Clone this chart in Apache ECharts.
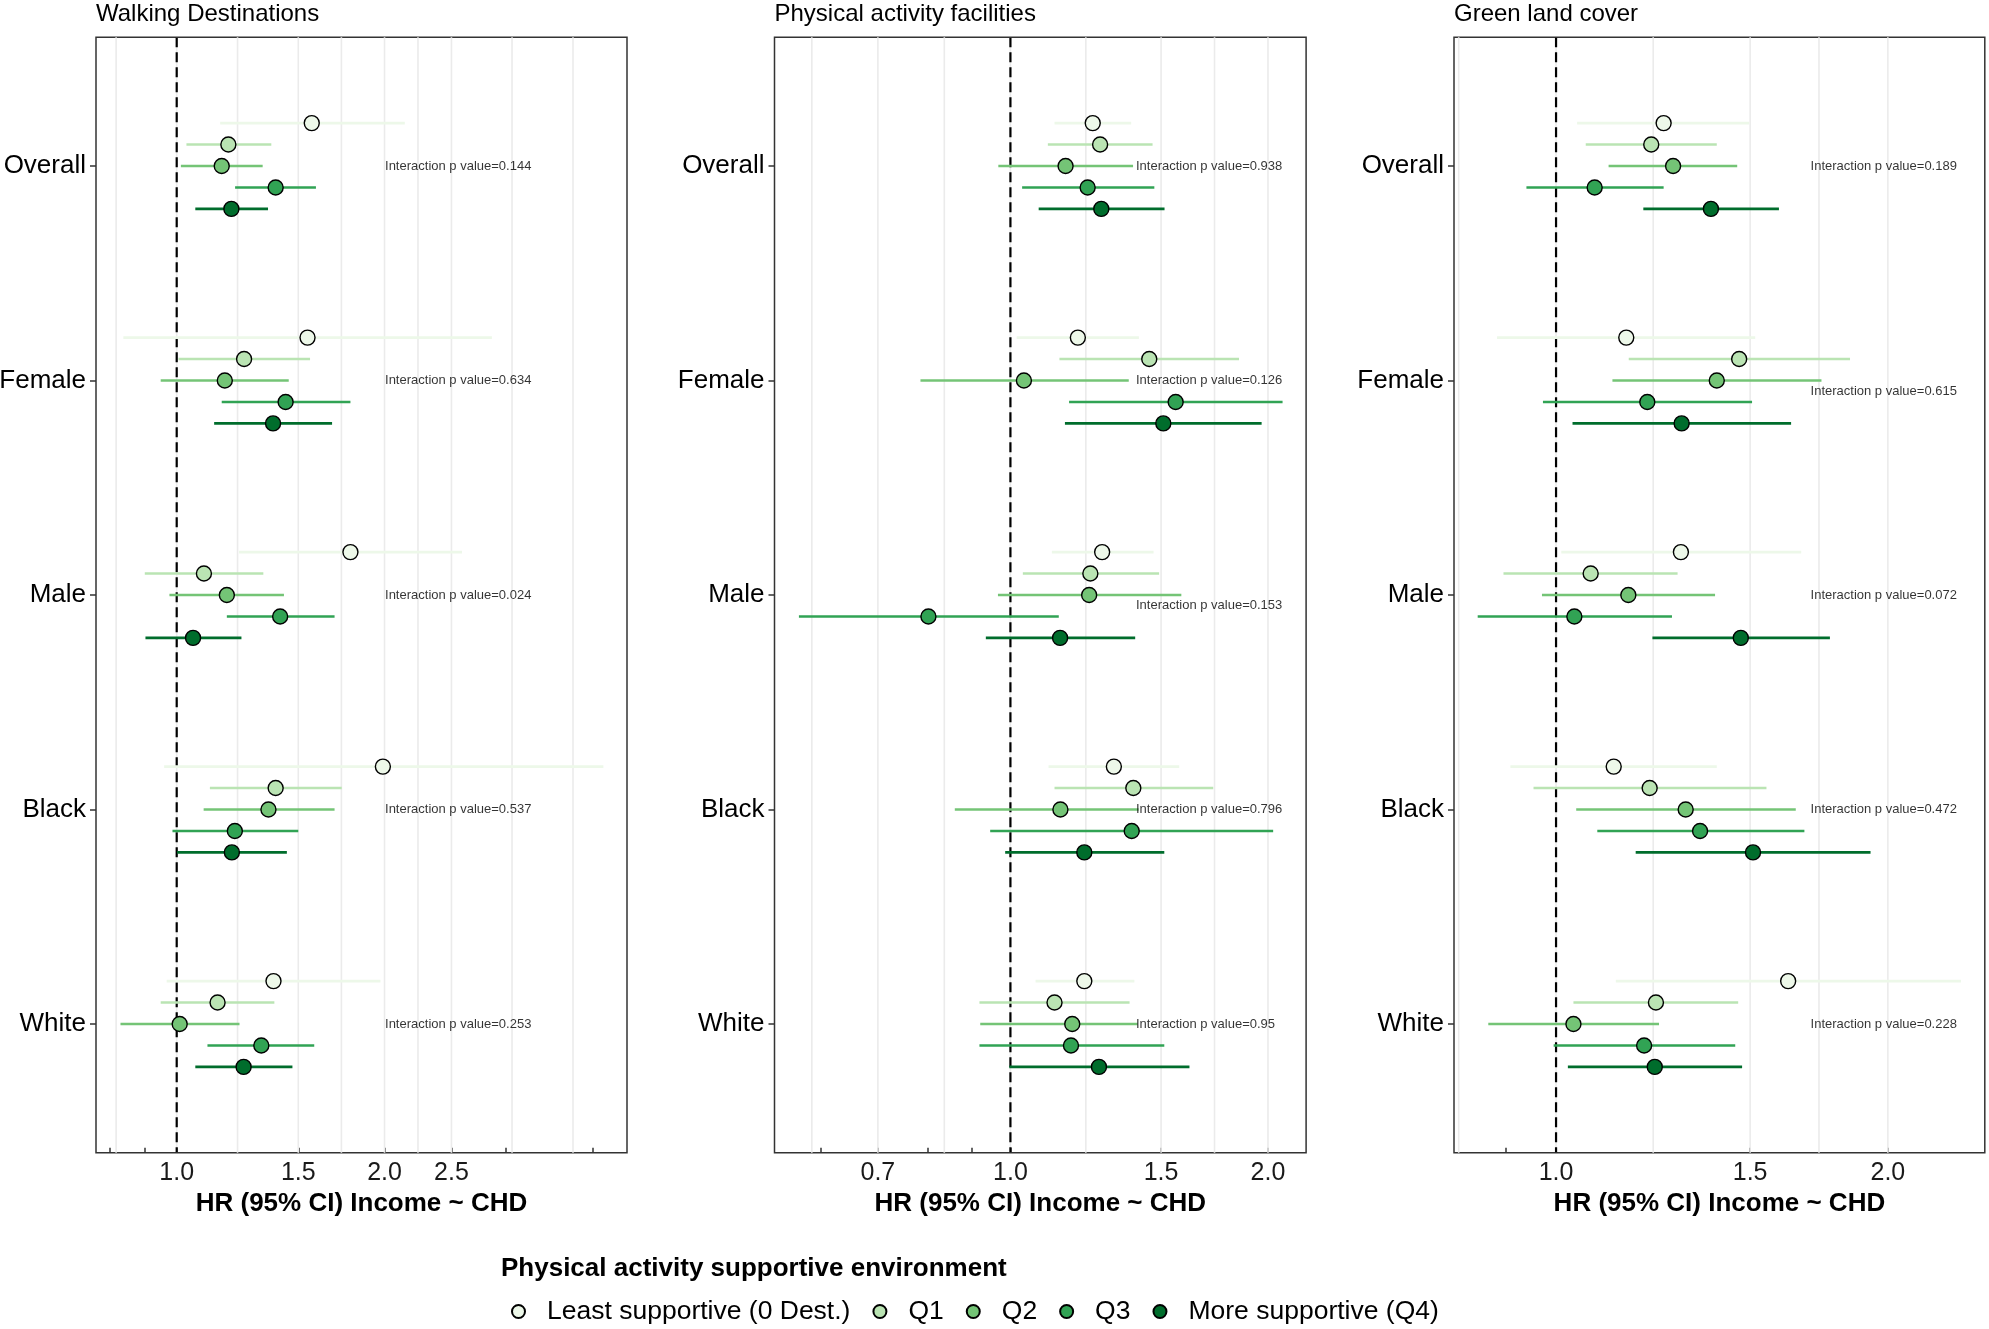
<!DOCTYPE html>
<html>
<head>
<meta charset="utf-8">
<script src="https://cdn.jsdelivr.net/npm/echarts@6/dist/echarts.min.js"></script>
<style>
  html, body { margin: 0; padding: 0; background: #fff; }
  #chart { width: 1989px; height: 1329px; }
</style>
</head>
<body>
<div id="chart"></div>
<script>
var subgroups = ['Overall', 'Female', 'Male', 'Black', 'White'];
var groupNames = ['Least supportive (0 Dest.)', 'Q1', 'Q2', 'Q3', 'More supportive (Q4)'];
var groupColors = ['#edf8e9', '#bae4b3', '#74c476', '#31a354', '#006d2c'];
var panelTitles = ['Walking Destinations', 'Physical activity facilities', 'Green land cover'];

// rows = environment group, columns = subgroup (Overall, Female, Male, Black, White)
var walkHR = [
  [1.569, 1.547, 1.785, 1.989, 1.381],
  [1.188, 1.252, 1.095, 1.391, 1.146],
  [1.162, 1.174, 1.182, 1.358, 1.010],
  [1.391, 1.438, 1.412, 1.214, 1.326],
  [1.200, 1.379, 1.056, 1.202, 1.250]
];
var walkLo = [
  [1.156, 0.837, 1.231, 0.959, 0.967],
  [1.033, 1.006, 0.899, 1.117, 0.948],
  [1.014, 0.948, 0.976, 1.094, 0.829],
  [1.215, 1.162, 1.182, 0.986, 1.108],
  [1.064, 1.133, 0.901, 1.001, 1.064]
];
var walkHi = [
  [2.140, 2.861, 2.590, 4.150, 1.973],
  [1.371, 1.560, 1.335, 1.734, 1.385],
  [1.332, 1.453, 1.430, 1.693, 1.233],
  [1.591, 1.785, 1.693, 1.500, 1.582],
  [1.356, 1.679, 1.241, 1.444, 1.471]
];
var walkP = ['0.144', '0.634', '0.024', '0.537', '0.253'];

var facHR = [
  [1.248, 1.199, 1.280, 1.321, 1.220],
  [1.273, 1.453, 1.240, 1.392, 1.126],
  [1.160, 1.037, 1.236, 1.144, 1.181],
  [1.231, 1.560, 0.802, 1.386, 1.177],
  [1.277, 1.509, 1.143, 1.220, 1.269]
];
var facLo = [
  [1.126, 1.017, 1.118, 1.108, 1.070],
  [1.106, 1.141, 1.034, 1.126, 0.920],
  [0.968, 0.785, 0.967, 0.861, 0.922],
  [1.032, 1.171, 0.566, 0.947, 0.920],
  [1.079, 1.158, 0.936, 0.986, 0.997]
];
var facHi = [
  [1.384, 1.413, 1.470, 1.575, 1.396],
  [1.466, 1.850, 1.492, 1.726, 1.378],
  [1.391, 1.375, 1.584, 1.412, 1.408],
  [1.473, 2.080, 1.139, 2.028, 1.513],
  [1.514, 1.966, 1.399, 1.513, 1.619]
];
var facP = ['0.938', '0.126', '0.153', '0.796', '0.95'];

var greenHR = [
  [1.252, 1.158, 1.298, 1.128, 1.624],
  [1.220, 1.466, 1.075, 1.216, 1.232],
  [1.277, 1.399, 1.163, 1.311, 1.037],
  [1.084, 1.210, 1.039, 1.351, 1.202],
  [1.382, 1.300, 1.471, 1.509, 1.229]
];
var greenLo = [
  [1.045, 0.884, 1.011, 0.909, 1.133],
  [1.064, 1.164, 0.896, 0.954, 1.037],
  [1.116, 1.125, 0.971, 1.043, 0.868],
  [0.940, 0.973, 0.849, 1.090, 0.995],
  [1.200, 1.035, 1.223, 1.181, 1.025]
];
var greenHi = [
  [1.497, 1.516, 1.669, 1.399, 2.330],
  [1.399, 1.848, 1.289, 1.552, 1.463],
  [1.460, 1.741, 1.394, 1.650, 1.240],
  [1.252, 1.506, 1.274, 1.680, 1.454],
  [1.593, 1.634, 1.772, 1.929, 1.475]
];
var greenP = ['0.189', '0.615', '0.072', '0.472', '0.228'];

// x axis breaks (HR scale, drawn on log axis)
var walkTicks = [0.8, 0.9, 1, 1.5, 2, 2.5, 3, 4];
var walkLabels = [1, 1.5, 2, 2.5];
var walkGrid = [0.817, 1, 1.225, 1.5, 1.732, 2, 2.236, 2.5, 3.06, 3.75];
var facTicks = [0.6, 0.7, 0.8, 0.9, 1, 1.5, 2];
var facLabels = [0.7, 1, 1.5, 2];
var facGrid = [0.586, 0.7, 0.837, 1, 1.225, 1.5, 1.732, 2];
var greenTicks = [0.9, 1, 1.5, 2];
var greenLabels = [1, 1.5, 2];
var greenGrid = [0.816, 1, 1.225, 1.5, 1.732, 2];

var FONT = '"Liberation Sans", Arial, Helvetica, sans-serif';
var ln = Math.log;

var panels = [
  { title: panelTitles[0], hr: walkHR, lo: walkLo, hi: walkHi, p: walkP,
    range: [0.764, 4.49], ticks: walkTicks, labels: walkLabels, gridVals: walkGrid,
    left: 96, width: 531, pX: 2.0, pNudge: [0, 0, 0, 0, 0] },
  { title: panelTitles[1], hr: facHR, lo: facLo, hi: facHi, p: facP,
    range: [0.530, 2.216], ticks: facTicks, labels: facLabels, gridVals: facGrid,
    left: 774.5, width: 531.6, pX: 1.4, pNudge: [0, 0, 0.05, 0, 0] },
  { title: panelTitles[2], hr: greenHR, lo: greenLo, hi: greenHi, p: greenP,
    range: [0.808, 2.449], ticks: greenTicks, labels: greenLabels, gridVals: greenGrid,
    left: 1454, width: 530.8, pX: 1.7, pNudge: [0, 0.05, 0, 0, 0] }
];

var chart = echarts.init(document.getElementById('chart'));

var grids = [], xAxes = [], yAxes = [], series = [], titles = [];

function vline(color, width, dash) {
  return function (params, api) {
    var a = api.coord([api.value(0), 0.4]);
    var b = api.coord([api.value(0), 5.6]);
    return {
      type: 'line',
      shape: { x1: a[0], y1: a[1], x2: b[0], y2: b[1] },
      style: { stroke: color, lineWidth: width, lineDash: dash }
    };
  };
}

panels.forEach(function (p, i) {
  grids.push({
    left: p.left, width: p.width, top: 37.3, height: 1115.4,
    show: true, borderColor: '#333', borderWidth: 1.5,
    outerBoundsMode: 'none'
  });
  xAxes.push({
    gridIndex: i, type: 'value',
    min: ln(p.range[0]), max: ln(p.range[1]),
    axisLine: { show: false, onZero: false },
    splitLine: { show: false },
    axisTick: { show: true, inside: true, length: 5,
      customValues: p.ticks.map(ln),
      lineStyle: { color: '#333', width: 1.5 } },
    axisLabel: { customValues: p.labels.map(ln),
      formatter: function (v) { return Math.exp(v).toFixed(1); },
      fontSize: 25, color: '#1a1a1a', margin: 8, fontFamily: FONT },
    name: 'HR (95% CI) Income ~ CHD',
    nameLocation: 'middle', nameGap: 38,
    nameTextStyle: { fontSize: 26, fontWeight: 'bold', color: '#000', fontFamily: FONT }
  });
  yAxes.push({
    gridIndex: i, type: 'value', inverse: true, min: 0.4, max: 5.6,
    axisLine: { show: false, onZero: false },
    splitLine: { show: false },
    axisTick: { show: true, length: 6, customValues: [1, 2, 3, 4, 5],
      lineStyle: { color: '#333', width: 1.5 } },
    axisLabel: { customValues: [1, 2, 3, 4, 5],
      formatter: function (v) { return subgroups[Math.round(v) - 1]; },
      fontSize: 26, color: '#000', margin: 10, padding: [5, 0, 0, 0], fontFamily: FONT }
  });
  titles.push({
    text: p.title, left: p.left, top: 2.5, padding: 0,
    textStyle: { fontSize: 24, fontWeight: 'normal', color: '#000', fontFamily: FONT }
  });

  // background grid lines
  series.push({
    type: 'custom', xAxisIndex: i, yAxisIndex: i, silent: true, z: 1,
    data: p.gridVals.map(function (v) { return [ln(v), 3]; }),
    encode: { x: 0, y: 1 },
    renderItem: vline('#ebebeb', 1.6, null)
  });
  // reference line at HR = 1
  series.push({
    type: 'custom', xAxisIndex: i, yAxisIndex: i, silent: true, z: 2,
    data: [[ln(1), 3]],
    encode: { x: 0, y: 1 },
    renderItem: vline('#000', 2.2, [10, 5])
  });

  groupNames.forEach(function (g, k) {
    var off = (k - 2) * 0.1;
    series.push({
      type: 'custom', name: g + ' CI', xAxisIndex: i, yAxisIndex: i, silent: true, z: 3,
      data: subgroups.map(function (s, j) {
        return [ln(p.lo[k][j]), ln(p.hi[k][j]), j + 1 + off];
      }),
      encode: { x: [0, 1], y: 2 },
      renderItem: function (params, api) {
        var a = api.coord([api.value(0), api.value(2)]);
        var b = api.coord([api.value(1), api.value(2)]);
        return {
          type: 'line',
          shape: { x1: a[0], y1: a[1], x2: b[0], y2: b[1] },
          style: { stroke: groupColors[k], lineWidth: 2.6 }
        };
      }
    });
    series.push({
      type: 'scatter', name: g, xAxisIndex: i, yAxisIndex: i, z: 4,
      symbol: 'circle', symbolSize: 15,
      itemStyle: { color: groupColors[k], borderColor: '#000', borderWidth: 1.4, opacity: 1 },
      data: subgroups.map(function (s, j) {
        return [ln(p.hr[k][j]), j + 1 + off];
      })
    });
  });

  series.push({
    type: 'scatter', name: 'pvalues', xAxisIndex: i, yAxisIndex: i, z: 5, silent: true,
    symbolSize: 1,
    itemStyle: { color: 'transparent' },
    data: subgroups.map(function (s, j) {
      return { value: [ln(p.pX), j + 1 + p.pNudge[j]], name: 'Interaction p value=' + p.p[j] };
    }),
    label: { show: true, position: 'right', distance: 0, formatter: '{b}',
      fontSize: 13, color: '#000', fontFamily: FONT }
  });
});

titles.push({
  text: 'Physical activity supportive environment', left: 501, top: 1256, padding: 0,
  textStyle: { fontSize: 26, fontWeight: 'bold', color: '#000', fontFamily: FONT }
});

var option = {
  backgroundColor: '#fff',
  animation: false,
  title: titles,
  grid: grids,
  xAxis: xAxes,
  yAxis: yAxes,
  legend: {
    data: groupNames,
    left: 511, top: 1298,
    padding: 0,
    itemWidth: 25, itemHeight: 13, itemGap: 22,
    selectedMode: false,
    textStyle: { fontSize: 26.5, color: '#000', fontFamily: FONT, padding: [0, 0, 0, 11] }
  },
  series: series
};

chart.setOption(option);
</script>
</body>
</html>
